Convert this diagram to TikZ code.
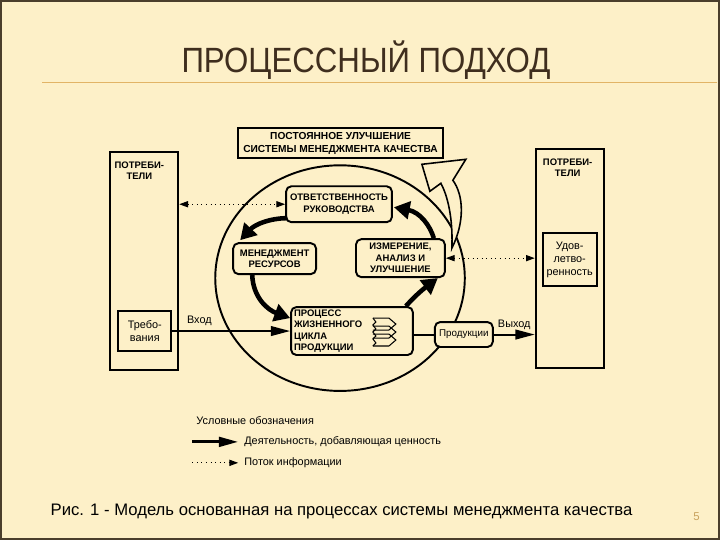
\documentclass[tikz,border=0pt]{standalone}
\usepackage{fontspec}
\setmainfont{Liberation Sans}
\newfontfamily\titlefont{Liberation Sans}[FakeStretch=0.89]
\usepackage{tikz}
\usetikzlibrary{arrows.meta,calc,positioning}
\definecolor{slidebg}{HTML}{FDF0C8}
\definecolor{titlebrown}{HTML}{3F2E1E}
\definecolor{rulegold}{HTML}{E2B466}
\definecolor{framebrown}{HTML}{4A3E2C}
\definecolor{numtan}{HTML}{C9A35E}

\begin{document}
\begin{tikzpicture}[x=0.02cm, y=-0.02cm,
    box/.style={draw, line width=1.1pt, inner sep=0pt, fill=slidebg},
    rbox/.style={box, rounded corners=3pt},
    caps/.style={font=\fontsize{5.4}{6.6}\selectfont\bfseries, align=center},
    small/.style={font=\fontsize{6.2}{7.4}\selectfont},
    flow/.style={line width=2.6pt, -{Triangle[length=9pt, width=10pt]}},
    act/.style={line width=1.1pt, -{Triangle[length=11pt, width=5.5pt]}},
    infoline/.style={line width=0.6pt, dotted},
    info/.style={infoline, {Triangle[length=5pt, width=3.5pt]}-{Triangle[length=5pt, width=3.5pt]}}
]
    % slide
    \fill[slidebg] (0,0) rectangle (720,540);
    \draw[framebrown, line width=1.2pt] (0.5,0.5) rectangle (719.5,539.5);
    \node[font=\titlefont\fontsize{20}{24}\selectfont, text=titlebrown] (title) at (366,60) {ПРОЦЕССНЫЙ ПОДХОД};
    \draw[rulegold, line width=0.8pt] (42,82) -- (718,82);

    % cycle
    \draw[line width=1.1pt] (340,278) ellipse [x radius=2.5cm, y radius=2.26cm];

    % boxes
    \node[box, caps, font=\fontsize{5.8}{7}\selectfont\bfseries, minimum width=4.1cm, minimum height=0.6cm] (improve) at (340.5,143) {ПОСТОЯННОЕ УЛУЧШЕНИЕ\\СИСТЕМЫ МЕНЕДЖМЕНТА КАЧЕСТВА};
    \node[box, minimum width=1.36cm, minimum height=4.36cm] (custL) at (144,261) {};
    \node[caps, anchor=north] (custLtext) at ($(custL.north)+(-5,4)$) {ПОТРЕБИ-\\ТЕЛИ};
    \node[box, small, align=center, minimum width=1.06cm, minimum height=0.8cm] (req) at (144.5,331) {Требо-\\вания};
    \node[box, minimum width=1.36cm, minimum height=4.38cm] (custR) at (570,258.5) {};
    \node[caps, anchor=north] (custRtext) at ($(custR.north)+(-2,4)$) {ПОТРЕБИ-\\ТЕЛИ};
    \node[box, small, align=center, minimum width=1.08cm, minimum height=1.06cm] (satis) at (570,259.5) {Удов-\\летво-\\ренность};

    \node[rbox, caps, minimum width=2.12cm, minimum height=0.72cm] (lead) at (339,204) {ОТВЕТСТВЕННОСТЬ\\РУКОВОДСТВА};
    \node[rbox, caps, minimum width=1.66cm, minimum height=0.62cm] (res) at (274.5,258.5) {МЕНЕДЖМЕНТ\\РЕСУРСОВ};
    \node[rbox, caps, minimum width=1.78cm, minimum height=0.76cm] (meas) at (400.5,258) {ИЗМЕРЕНИЕ,\\АНАЛИЗ И\\УЛУЧШЕНИЕ};
    \node[rbox, caps, align=left, text width=2.32cm, minimum width=2.44cm, minimum height=0.96cm] (life) at (352,331) {ПРОЦЕСС\\ЖИЗНЕННОГО\\ЦИКЛА\\ПРОДУКЦИИ};
    \node[rbox, small, font=\fontsize{5.6}{7}\selectfont, minimum width=1.16cm, minimum height=0.5cm] (output) at (464,334.5) {Продукции};

    % stacked chevrons in the process box
    \foreach \k in {0,1,2}
        \draw[line width=0.6pt] ($(life.east)+(-41,-13+8*\k)$) -- ++(16,0) -- ++(7,6) -- ++(-7,6) -- ++(-16,0);
    \draw[line width=0.6pt] ($(life.east)+(-41,-13)$) -- ++(3,4) -- ++(-3,3) -- ++(3,4) -- ++(-3,3) -- ++(3,4) -- ++(-3,3) -- ++(3,4) -- ++(-3,3);

    % information flows
    \draw[info] (lead.west -| custL.east) -- (lead.west);
    \draw[info] (meas.east) -- (meas.east -| custR.west);

    % input / output
    \draw[act] (req.east) -- (req.east -| life.west) node[small, pos=0.23, above=-1pt] (inlbl) {Вход};
    \draw[line width=1.1pt] (output.west -| life.east) -- (output.west);
    \draw[act] (output.east) -- (output.east -| custR.west) node[small, midway, above=-1pt] (outlbl) {Выход};

    % cycle arrows
    \draw[flow] ($(lead.south west)+(2,-5)$) .. controls (270,218) and (255,224) .. (240,240);
    \draw[flow] ($(res.south west)+(20,0)$) .. controls (253,298) and (268,310) .. ($(life.west)+(0,-13)$);
    \draw[flow] ($(life.north east)+(-8,0)$) .. controls (415,296) and (422,290) .. ($(meas.south east)+(-8,0)$);
    \draw[flow] ($(meas.north east)+(-12,0)$) .. controls (430,225) and (420,212) .. ($(lead.east)+(1,3)$);

    % improvement arrow
    \draw[line width=0.9pt, fill=slidebg] (452,248) .. controls (465,222) and (464,195) .. (453,180)
        -- (466,159) -- (422,164) -- (430,191) -- (441,183)
        .. controls (450,200) and (453,225) .. cycle;

    % legend
    \node[small, anchor=west] (legend) at (190,421) {Условные обозначения};
    \coordinate (actstart) at (192,442);
    \node[small, anchor=west] (actlbl) at (238,442) {Деятельность, добавляющая ценность};
    \draw[act, line width=1.6pt] (actstart) -- (actlbl.west);
    \coordinate (infostart) at (192,463);
    \node[small, anchor=west] (infolbl) at (238,463) {Поток информации};
    \draw[infoline, -{Triangle[length=5pt, width=3.5pt]}] (infostart) -- (infolbl.west);

    % caption
    \node[font=\fontsize{9.5}{11}\selectfont, anchor=west] (caption) at (44,512) {Рис. 1 - Модель основанная на процессах системы менеджмента качества};
    \node[font=\fontsize{6.5}{8}\selectfont, text=numtan] (pagenum) at (697,517) {5};
\end{tikzpicture}
\end{document}
